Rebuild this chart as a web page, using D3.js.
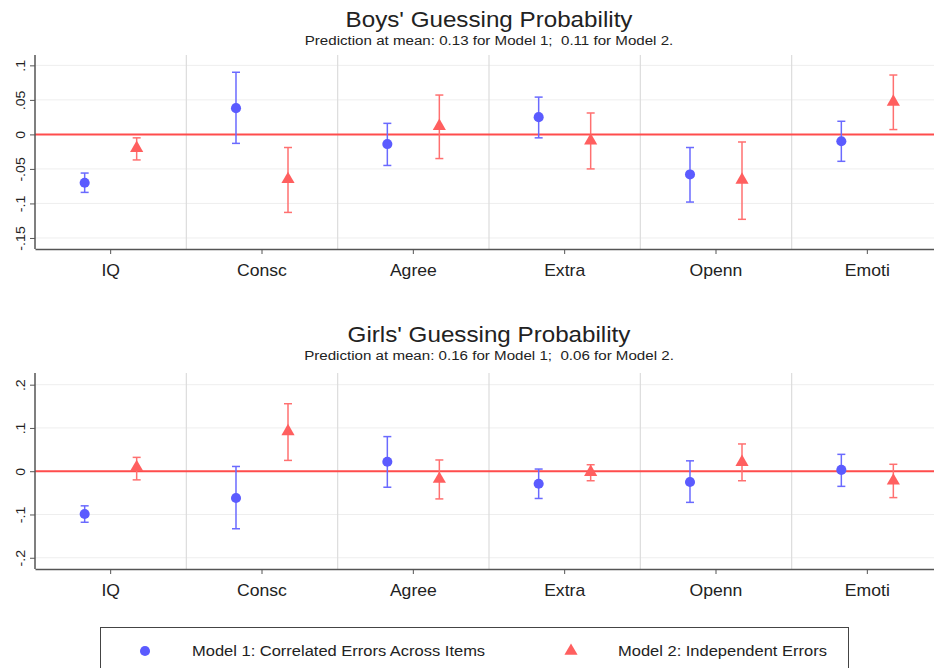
<!DOCTYPE html>
<html>
<head>
<meta charset="utf-8">
<script src="https://cdn.jsdelivr.net/npm/d3@7"></script>
<style>
  body { margin: 0; background: #fff; }
  svg { display: block; font-family: "Liberation Sans", Arial, sans-serif; }
</style>
</head>
<body>
<div class="chart"></div>
<script>
const categories = ["IQ", "Consc", "Agree", "Extra", "Openn", "Emoti"];
const models = ["Model 1: Correlated Errors Across Items", "Model 2: Independent Errors"];

// boys: point estimate, lower and upper bounds
const boysM1 = [-0.070, 0.038, -0.014, 0.025, -0.058, -0.010];
const boysM1Lo = [-0.084, -0.013, -0.045, -0.005, -0.098, -0.039];
const boysM1Hi = [-0.056, 0.090, 0.016, 0.054, -0.019, 0.019];
const boysM2 = [-0.020, -0.065, 0.012, -0.009, -0.066, 0.047];
const boysM2Lo = [-0.037, -0.113, -0.035, -0.050, -0.123, 0.007];
const boysM2Hi = [-0.005, -0.019, 0.057, 0.031, -0.011, 0.086];

// girls
const girlsM1 = [-0.099, -0.062, 0.022, -0.029, -0.025, 0.003];
const girlsM1Lo = [-0.118, -0.133, -0.037, -0.063, -0.072, -0.035];
const girlsM1Hi = [-0.080, 0.011, 0.080, 0.005, 0.024, 0.039];
const girlsM2 = [0.009, 0.092, -0.018, -0.002, 0.021, -0.022];
const girlsM2Lo = [-0.020, 0.025, -0.064, -0.022, -0.022, -0.061];
const girlsM2Hi = [0.032, 0.156, 0.026, 0.015, 0.063, 0.016];

const boysTicks = [0.1, 0.05, 0, -0.05, -0.1, -0.15];
const boysTickLabels = [".1", ".05", "0", "-.05", "-.1", "-.15"];
const girlsTicks = [0.2, 0.1, 0, -0.1, -0.2];
const girlsTickLabels = [".2", ".1", "0", "-.1", "-.2"];

const width = 934, height = 668;
const blue = "#5b5bff", red = "#ff5f5f";
// the original font runs a bit wider than Liberation Sans
const stretch = "scale(1.1,1)";

const svg = d3.select(".chart").append("svg")
  .attr("width", width)
  .attr("height", height);

function rows(est, lo, hi, model) {
  return categories.map((c, i) => ({cat: c, model: model, est: est[i], lo: lo[i], hi: hi[i]}));
}

function drawPanel(opts) {
  const x = d3.scaleBand().domain(categories).range([35, 943]);
  const sub = d3.scalePoint().domain(models).range([0, x.bandwidth()]).padding(0.955);
  const y = d3.scaleLinear().domain(opts.domain).range([opts.bottom, opts.top]);
  const g = svg.append("g");
  const data = rows(opts.m1, opts.m1Lo, opts.m1Hi, models[0])
    .concat(rows(opts.m2, opts.m2Lo, opts.m2Hi, models[1]));

  // titles
  const cx = (x.range()[0] + x.range()[1]) / 2;
  g.append("text")
    .attr("transform", `translate(${cx},${opts.titleY}) ${stretch}`)
    .attr("text-anchor", "middle").attr("font-size", 22).attr("fill", "#222")
    .text(opts.title);
  g.append("text")
    .attr("transform", `translate(${cx},${opts.titleY + 18}) scale(1.12,1)`)
    .attr("text-anchor", "middle").attr("font-size", 13.5).attr("fill", "#222")
    .style("white-space", "pre")
    .text(opts.subtitle);

  // horizontal grid
  g.selectAll(".grid").data(opts.ticks).join("line")
    .attr("x1", 35).attr("x2", width)
    .attr("y1", d => y(d)).attr("y2", d => y(d))
    .attr("stroke", "#eeeeee").attr("stroke-width", 1);

  // band separators
  g.selectAll(".sep").data(categories.slice(1)).join("line")
    .attr("x1", d => x(d)).attr("x2", d => x(d))
    .attr("y1", opts.top).attr("y2", opts.bottom)
    .attr("stroke", "#dcdcdc").attr("stroke-width", 1.2);

  // zero line
  g.append("line")
    .attr("x1", 35).attr("x2", width)
    .attr("y1", y(0)).attr("y2", y(0))
    .attr("stroke", "#ff4c4c").attr("stroke-width", 2);

  // y axis
  const yAxis = g.append("g")
    .attr("transform", "translate(35,0)")
    .call(d3.axisLeft(y).tickValues(opts.ticks).tickSize(5)
      .tickFormat((d, i) => opts.tickLabels[i]));
  yAxis.select(".domain").attr("stroke", "#555").attr("stroke-width", 1.5)
    .attr("d", `M0,${opts.top}V${opts.bottom}`);
  yAxis.selectAll(".tick line").attr("stroke", "#555");
  yAxis.selectAll(".tick text")
    .attr("font-size", 13.5).attr("fill", "#222")
    .attr("x", null).attr("dy", null)
    .attr("text-anchor", "middle")
    .attr("transform", "translate(-10,0) rotate(-90) scale(1.05,1)");

  // x axis
  const xAxis = g.append("g")
    .attr("transform", `translate(0,${opts.bottom})`)
    .call(d3.axisBottom(x).tickSize(5).tickSizeOuter(0));
  xAxis.select(".domain").attr("stroke", "#555").attr("stroke-width", 1.5);
  xAxis.selectAll(".tick line").attr("stroke", "#555");
  xAxis.selectAll(".tick text")
    .attr("font-size", 16).attr("fill", "#222")
    .attr("y", 16).attr("dy", "0.71em")
    .attr("transform", stretch);

  const px = d => x(d.cat) + sub(d.model);
  const col = d => d.model === models[0] ? blue : red;

  // error bars
  const bars = g.selectAll(".ci").data(data).join("g")
    .attr("stroke", d => d.model === models[0] ? "#6a6aff" : "#ff7070")
    .attr("stroke-width", 1.5);
  bars.append("line")
    .attr("x1", px).attr("x2", px)
    .attr("y1", d => y(d.lo)).attr("y2", d => y(d.hi));
  bars.append("line")
    .attr("x1", d => px(d) - 4).attr("x2", d => px(d) + 4)
    .attr("y1", d => y(d.lo)).attr("y2", d => y(d.lo));
  bars.append("line")
    .attr("x1", d => px(d) - 4).attr("x2", d => px(d) + 4)
    .attr("y1", d => y(d.hi)).attr("y2", d => y(d.hi));

  // markers
  const circle = d3.symbol().type(d3.symbolCircle).size(80)();
  const tri = d3.symbol().type(d3.symbolTriangle).size(75)();
  g.selectAll(".pt").data(data).join("path")
    .attr("transform", d => `translate(${px(d)},${y(d.est)})`)
    .attr("d", d => d.model === models[0] ? circle : tri)
    .attr("fill", col);
}

drawPanel({
  title: "Boys' Guessing Probability",
  subtitle: "Prediction at mean: 0.13 for Model 1;  0.11 for Model 2.",
  titleY: 27, top: 55, bottom: 249, domain: [-0.166, 0.115],
  ticks: boysTicks, tickLabels: boysTickLabels,
  m1: boysM1, m1Lo: boysM1Lo, m1Hi: boysM1Hi,
  m2: boysM2, m2Lo: boysM2Lo, m2Hi: boysM2Hi
});

drawPanel({
  title: "Girls' Guessing Probability",
  subtitle: "Prediction at mean: 0.16 for Model 1;  0.06 for Model 2.",
  titleY: 342, top: 373, bottom: 569, domain: [-0.226, 0.227],
  ticks: girlsTicks, tickLabels: girlsTickLabels,
  m1: girlsM1, m1Lo: girlsM1Lo, m1Hi: girlsM1Hi,
  m2: girlsM2, m2Lo: girlsM2Lo, m2Hi: girlsM2Hi
});

// legend
const legend = svg.append("g");
legend.append("rect")
  .attr("x", 100.5).attr("y", 627.5).attr("width", 748).attr("height", 50)
  .attr("fill", "#fff").attr("stroke", "#444").attr("stroke-width", 1);
const legendX = d3.scalePoint().domain(models).range([145, 571]);
legend.selectAll(".lg").data(models).join("path")
  .attr("transform", d => `translate(${legendX(d)},651)`)
  .attr("d", (d, i) => d3.symbol().type(i === 0 ? d3.symbolCircle : d3.symbolTriangle).size(i === 0 ? 80 : 75)())
  .attr("fill", (d, i) => i === 0 ? blue : red);
legend.selectAll(".lt").data(models).join("text")
  .attr("transform", d => `translate(${legendX(d) + 47},656) ${stretch}`)
  .attr("font-size", 15).attr("fill", "#222")
  .text(d => d);
</script>
</body>
</html>
